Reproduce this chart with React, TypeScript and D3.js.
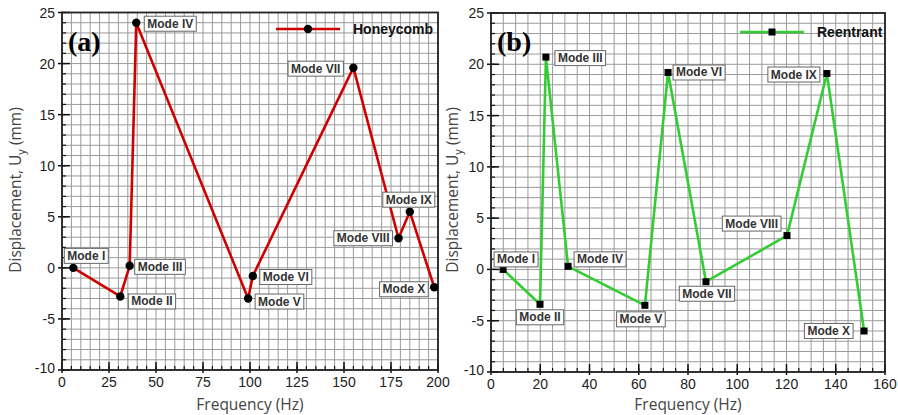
import { useRef, useEffect } from "react";
import * as d3 from "d3";

// mode names shared by both panels
const modes = ["Mode I", "Mode II", "Mode III", "Mode IV", "Mode V", "Mode VI", "Mode VII", "Mode VIII", "Mode IX", "Mode X"];

// (a) honeycomb
const honeyFreq = [6, 31, 36, 39.5, 99, 101.5, 155, 179, 185, 198];
const honeyDisp = [0, -2.8, 0.2, 24, -3, -0.8, 19.6, 2.9, 5.5, -1.9];

// (b) reentrant
const reenFreq = [4.9, 19.9, 22.3, 31.3, 62.5, 71.9, 87.3, 120.2, 136.4, 151.5];
const reenDisp = [0, -3.4, 20.7, 0.3, -3.5, 19.2, -1.2, 3.3, 19.1, -6.0];

const honeyXTicks = [0, 25, 50, 75, 100, 125, 150, 175, 200];
const reenXTicks = [0, 20, 40, 60, 80, 100, 120, 140, 160];
const yTicks = [-10, -5, 0, 5, 10, 15, 20, 25];

// label placement: [dx, dy, anchor]
const honeyLabelPos: [number, number, string][] = [
  [-6, -12, "start"], [11, 5, "start"], [8, 1, "start"], [11, 1, "start"], [10, 3, "start"],
  [10, 1, "start"], [-13, 1, "end"], [-9, 0, "end"], [-1, -12, "middle"], [-9, 2, "end"],
];
const reenLabelPos: [number, number, string][] = [
  [-6, -10, "start"], [0, 13, "middle"], [12, 1, "start"], [9, -7, "start"], [-4, 14, "middle"],
  [8, 0, "start"], [1, 12, "middle"], [-9, -12, "end"], [-10, 1, "end"], [-14, 0, "end"],
];

const App = () => {
  const svgRef = useRef<SVGSVGElement>(null);

  useEffect(() => {
    const svg: any = d3.select(svgRef.current);
    svg.selectAll("*").remove();

    const drawPanel = (opt: any) => {
      const g = svg.append("g");
      const x = d3.scaleLinear().domain([0, opt.xMax]).range([opt.x0, opt.x1]);
      const y = d3.scaleLinear().domain([-10, 25]).range([opt.y1, opt.y0]);

      // grid
      g.append("g").selectAll("line").data(d3.range(0, opt.xMax + 0.1, 5)).join("line")
        .attr("x1", (d: number) => x(d)).attr("x2", (d: number) => x(d))
        .attr("y1", opt.y0).attr("y2", opt.y1)
        .attr("stroke", "#9a9a9a").attr("stroke-width", 1);
      g.append("g").selectAll("line").data(d3.range(-10, 25.1, 1)).join("line")
        .attr("y1", (d: number) => y(d)).attr("y2", (d: number) => y(d))
        .attr("x1", opt.x0).attr("x2", opt.x1)
        .attr("stroke", "#9a9a9a").attr("stroke-width", 1);

      // minor ticks inside
      g.append("g").selectAll("line").data(d3.range(0, opt.xMax + 0.1, 5)).join("line")
        .attr("x1", (d: number) => x(d)).attr("x2", (d: number) => x(d))
        .attr("y1", opt.y1).attr("y2", opt.y1 - 4)
        .attr("stroke", "#111").attr("stroke-width", 1.2);
      g.append("g").selectAll("line").data(d3.range(-10, 25.1, 1)).join("line")
        .attr("y1", (d: number) => y(d)).attr("y2", (d: number) => y(d))
        .attr("x1", opt.x0).attr("x2", opt.x0 + 4)
        .attr("stroke", "#111").attr("stroke-width", 1.2);
      // major ticks
      g.append("g").selectAll("line").data(opt.xTicks).join("line")
        .attr("x1", (d: number) => x(d)).attr("x2", (d: number) => x(d))
        .attr("y1", opt.y1 + 3).attr("y2", opt.y1 - 8)
        .attr("stroke", "#111").attr("stroke-width", 1.5);
      g.append("g").selectAll("line").data(yTicks).join("line")
        .attr("y1", (d: number) => y(d)).attr("y2", (d: number) => y(d))
        .attr("x1", opt.x0 - 4).attr("x2", opt.x0 + 8)
        .attr("stroke", "#111").attr("stroke-width", 1.5);

      // border
      g.append("rect").attr("x", opt.x0).attr("y", opt.y0)
        .attr("width", opt.x1 - opt.x0).attr("height", opt.y1 - opt.y0)
        .attr("fill", "none").attr("stroke", "#222").attr("stroke-width", 1.8);

      // tick labels
      g.append("g").selectAll("text").data(opt.xTicks).join("text")
        .attr("x", (d: number) => x(d)).attr("y", opt.y1 + 17)
        .attr("text-anchor", "middle")
        .attr("font-family", "Liberation Sans, Arial, sans-serif").attr("font-size", 14)
        .attr("fill", "#222").text((d: number) => d);
      g.append("g").selectAll("text").data(yTicks).join("text")
        .attr("x", opt.x0 - 7).attr("y", (d: number) => y(d) + (d === -10 ? 3 : 5))
        .attr("text-anchor", "end")
        .attr("font-family", "Liberation Sans, Arial, sans-serif").attr("font-size", 14)
        .attr("fill", "#222").text((d: number) => d);

      // axis titles
      g.append("text").attr("x", (opt.x0 + opt.x1) / 2).attr("y", 410)
        .attr("text-anchor", "middle")
        .attr("font-family", "Open Sans, sans-serif").attr("font-size", 15.5)
        .attr("fill", "#444").text("Frequency (Hz)");
      const yt = g.append("text")
        .attr("transform", `translate(${opt.titleX},190) rotate(-90)`)
        .attr("text-anchor", "middle")
        .attr("font-family", "Open Sans, sans-serif").attr("font-size", 15.5)
        .attr("fill", "#444");
      yt.append("tspan").text("Displacement, U");
      yt.append("tspan").attr("dy", 4).attr("font-size", 11).text("y");
      yt.append("tspan").attr("dy", -4).text(" (mm)");

      // panel letter
      g.append("text").attr("x", opt.x0 + 6).attr("y", opt.y0 + 38)
        .attr("font-family", "Liberation Serif, Times New Roman, serif")
        .attr("font-weight", "bold").attr("font-size", 28)
        .attr("fill", "#000").text(opt.letter);

      // series line
      const pts = opt.freq.map((f: number, i: number) => [f, opt.disp[i]]);
      const line = d3.line<any>().x((d) => x(d[0])).y((d) => y(d[1]));
      g.append("path").attr("d", line(pts))
        .attr("fill", "none").attr("stroke", opt.color).attr("stroke-width", 2.6)
        .attr("stroke-linejoin", "round");

      const drawMarker = (sel: any, cx: number, cy: number) => {
        if (opt.square) {
          sel.append("rect").attr("x", cx - 3.5).attr("y", cy - 3.5)
            .attr("width", 7).attr("height", 7).attr("fill", "#000");
        } else {
          sel.append("circle").attr("cx", cx).attr("cy", cy).attr("r", 4.2).attr("fill", "#000");
        }
      };
      pts.forEach((p: number[]) => drawMarker(g, x(p[0]), y(p[1])));

      // mode labels
      pts.forEach((p: number[], i: number) => {
        const [dx, dy, anchor] = opt.labelPos[i];
        const lg = g.append("g");
        const t = lg.append("text")
          .attr("x", x(p[0]) + dx).attr("y", y(p[1]) + dy)
          .attr("text-anchor", anchor).attr("dominant-baseline", "central")
          .attr("font-family", "Liberation Sans, Arial, sans-serif")
          .attr("font-weight", "bold").attr("font-size", 12)
          .attr("fill", "#333").text(modes[i]);
        const bb = (t.node() as SVGTextElement).getBBox();
        lg.insert("rect", "text")
          .attr("x", bb.x - 3).attr("y", bb.y - 0.5)
          .attr("width", bb.width + 6).attr("height", bb.height + 1)
          .attr("fill", "#fff").attr("stroke", "#666").attr("stroke-width", 1);
      });

      // legend
      g.append("line").attr("x1", opt.legX).attr("x2", opt.legX + 64)
        .attr("y1", opt.legY).attr("y2", opt.legY)
        .attr("stroke", opt.color).attr("stroke-width", 2.6);
      drawMarker(g, opt.legX + 32, opt.legY);
      g.append("text").attr("x", opt.legX + 77).attr("y", opt.legY + 5)
        .attr("font-family", "Liberation Sans, Arial, sans-serif")
        .attr("font-weight", "bold").attr("font-size", 14)
        .attr("fill", "#111").text(opt.name);
    };

    drawPanel({
      x0: 62, x1: 438, y0: 12.5, y1: 370, xMax: 200, xTicks: honeyXTicks,
      freq: honeyFreq, disp: honeyDisp, labelPos: honeyLabelPos, color: "#d00000",
      square: false, name: "Honeycomb", letter: "(a)", legX: 276, legY: 29, titleX: 21,
    });
    drawPanel({
      x0: 491, x1: 885, y0: 13, y1: 372, xMax: 160, xTicks: reenXTicks,
      freq: reenFreq, disp: reenDisp, labelPos: reenLabelPos, color: "#33cc33",
      square: true, name: "Reentrant", letter: "(b)", legX: 740, legY: 32, titleX: 458,
    });
  }, []);

  return (
    <svg ref={svgRef} width={898} height={415}
      style={{ position: "absolute", left: 0, top: 0, background: "#fff" }} />
  );
};

export default App;
